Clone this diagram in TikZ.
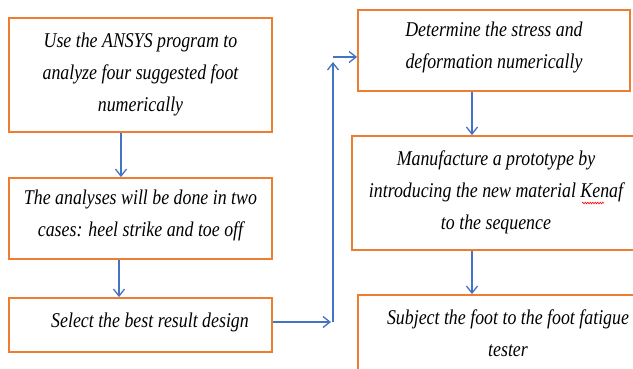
\documentclass[tikz,border=0pt]{standalone}
\usepackage{fontspec}
\setmainfont[FakeStretch=0.85]{Liberation Serif}
\usetikzlibrary{arrows.meta,calc,decorations.pathmorphing}
\definecolor{boxorange}{RGB}{237,125,49}
\definecolor{arrowblue}{RGB}{68,114,196}
\tikzset{
  stepbox/.style={draw=boxorange, line width=1.8pt, rectangle, inner sep=0pt},
  steptext/.style={align=center, font=\fontsize{21pt}{32pt}\selectfont\itshape, inner sep=0pt},
  flowarrow/.style={draw=arrowblue, line width=1.3pt, -{Straight Barb[length=7pt,width=11pt,line width=1.3pt]}},
  squiggle/.style={draw=red, line width=0.6pt, decorate, decoration={snake, amplitude=0.8pt, segment length=2.5pt}}
}
\begin{document}
\begin{tikzpicture}[x=1pt,y=-1pt]
\useasboundingbox (0,0) rectangle (633,369);
\clip (0,0) rectangle (633,369);
% boxes
\node[stepbox, minimum width=263pt, minimum height=114pt] (b1) at (140.5,75) {};
\node[stepbox, minimum width=263pt, minimum height=81pt] (b2) at (140.5,218.5) {};
\node[stepbox, minimum width=263pt, minimum height=54pt] (b3) at (140.5,325) {};
\node[stepbox, minimum width=272pt, minimum height=81pt] (b4) at (494,50.5) {};
\node[stepbox, minimum width=288pt, minimum height=114pt] (b5) at (496,193) {};
\node[stepbox, minimum width=284pt, minimum height=77pt] (b6) at (500,333.5) {};
% texts
\node[steptext] (t1) at (140.5,74.5) {Use the ANSYS program to\\analyze four suggested foot\\numerically};
\node[steptext] (t2) at (140.5,215) {The analyses will be done in two\\cases: heel strike and toe off};
\node[steptext] (t3) at (150,322) {Select the best result design};
\node[steptext] (t4) at (494,47.5) {Determine the stress and\\deformation numerically};
\node[steptext] (t5) at (496,192.5) {Manufacture a prototype by\\introducing the new material Kenaf\\to the sequence};
\node[steptext] (t6) at (508,333.5) {Subject the foot to the foot fatigue\\tester};
\draw[squiggle] (582,203) -- (604,203);
% connectors
\coordinate (c1) at (331,322);
\coordinate (c2) at (333,322);
\coordinate (c3) at (333,62);
\coordinate (c4) at (333,57);
\draw[flowarrow] ([xshift=-19.5pt]b1.south) -- ([xshift=-19.5pt]b1.south |- b2.north);
\draw[flowarrow] ([xshift=-21.5pt]b2.south) -- ([xshift=-21.5pt]b2.south |- b3.north);
\draw[flowarrow] ([yshift=3pt]b3.east) -- (c1);
\draw[flowarrow] (c2) -- (c3);
\draw[flowarrow] (c4) -- (c4 -| b4.west);
\draw[flowarrow] ([xshift=-22pt]b4.south) -- ([xshift=-22pt]b4.south |- b5.north);
\draw[flowarrow] ([xshift=-24pt]b5.south) -- ([xshift=-24pt]b5.south |- b6.north);
\end{tikzpicture}
\end{document}
